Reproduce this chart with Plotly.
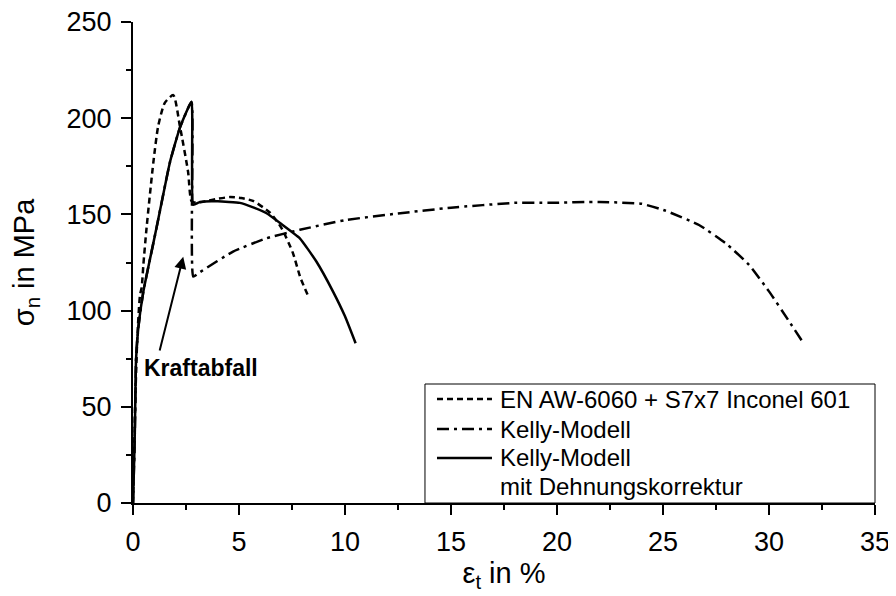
import plotly.graph_objects as go

# Experiment: EN AW-6060 + S7x7 Inconel 601
exp_x = [0.0, 0.1, 0.2, 0.33, 0.41, 0.49, 0.64, 0.96, 1.19, 1.5, 1.9, 2.21, 2.6, 2.76, 3.0, 3.5, 3.94, 4.57, 5.1, 5.66, 6.45, 7.0, 7.54, 7.9, 8.31]
exp_y = [0.0, 50, 85, 108, 112, 124, 143, 177, 196, 208, 212, 196, 172, 157, 156, 157, 158, 159, 158.5, 157, 151, 143, 130, 117, 106.5]

# Kelly-Modell
kel_x = [0.0, 0.05, 0.09, 0.14, 0.25, 0.49, 1.11, 1.74, 2.21, 2.76, 2.84, 3.16, 4.72, 6.3, 7.87, 10.0, 12.5, 15.0, 18.0, 19.6, 22.0, 24.0, 25.1, 26.7, 27.96, 29.06, 30.0, 30.95, 31.57]
kel_y = [0.0, 20, 39, 74, 91, 110, 143, 177, 195, 208.5, 117.7, 120, 130.7, 137.6, 142, 147, 150.5, 153.5, 156, 156, 156.5, 155.5, 152, 144.5, 135, 123.8, 110, 94.4, 84]

# Kelly-Modell mit Dehnungskorrektur
kdk_x = [0.0, 0.05, 0.09, 0.14, 0.25, 0.49, 1.11, 1.74, 2.21, 2.76, 2.84, 3.16, 4.0, 5.04, 5.7, 6.3, 7.0, 7.87, 8.65, 9.43, 10.0, 10.5]
kdk_y = [0.0, 20, 39, 74, 91, 110, 143, 177, 195, 208.5, 155, 156.5, 156.8, 156, 153.5, 150.6, 145, 137.6, 125.5, 110, 97, 83]

names = ["EN AW-6060 + S7x7 Inconel 601", "Kelly-Modell", "Kelly-Modell", "mit Dehnungskorrektur"]

x_ticks = [0, 5, 10, 15, 20, 25, 30, 35]
y_ticks = [0, 50, 100, 150, 200, 250]

font = "Liberation Sans, Arial, sans-serif"
dashes = ["6px,4px", "12px,5px,3px,5px", "solid"]

fig = go.Figure()
fig.add_trace(go.Scatter(x=exp_x, y=exp_y, mode="lines", name=names[0], showlegend=False,
                         line=dict(color="black", width=2.5, dash=dashes[0], shape="spline", smoothing=0.6)))
fig.add_trace(go.Scatter(x=kel_x, y=kel_y, mode="lines", name=names[1], showlegend=False,
                         line=dict(color="black", width=2.5, dash=dashes[1], shape="spline", smoothing=0.4)))
fig.add_trace(go.Scatter(x=kdk_x, y=kdk_y, mode="lines", name=names[2] + " " + names[3], showlegend=False,
                         line=dict(color="black", width=2.5, dash=dashes[2], shape="spline", smoothing=0.4)))

fig.add_annotation(x=2.37, y=128, ax=1.24, ay=78.5, xref="x", yref="y", axref="x", ayref="y",
                   showarrow=True, arrowhead=2, arrowsize=1.2, arrowwidth=2, arrowcolor="black", text="")
fig.add_annotation(x=3.19, y=70, xref="x", yref="y", text="<b>Kraftabfall</b>", showarrow=False,
                   font=dict(family=font, size=23, color="black"))

# Legend box (drawn manually, paper coordinates)
fig.add_shape(type="rect", xref="paper", yref="paper", x0=0.3935, x1=1.0, y0=0, y1=0.2474,
              line=dict(color="black", width=1), fillcolor="white", layer="above")
row_y = [0.2162, 0.1538, 0.0936, 0.0333]
for i in range(3):
    fig.add_shape(type="line", xref="paper", yref="paper", x0=0.4097, x1=0.4838, y0=row_y[i], y1=row_y[i],
                  line=dict(color="black", width=2.5, dash=dashes[i]), layer="above")
for i in range(4):
    fig.add_annotation(xref="paper", yref="paper", x=0.4919, y=row_y[i], xanchor="left", yanchor="middle",
                       text=names[i], showarrow=False, font=dict(family=font, size=24, color="black"))

axis_common = dict(showline=True, linecolor="black", linewidth=2, ticks="outside", ticklen=10,
                   tickwidth=2, tickcolor="black", showgrid=False, zeroline=False, mirror=False,
                   automargin=False, ticklabelstandoff=4, ticklabeloverflow="allow",
                   tickfont=dict(family=font, size=27, color="black"))

fig.update_xaxes(range=[0, 35], tickvals=x_ticks,
                 title=dict(text="ε<sub>t</sub> in %", font=dict(family=font, size=29, color="black"), standoff=2),
                 minor=dict(dtick=2.5, ticks="outside", ticklen=5, tickwidth=2, tickcolor="black"), **axis_common)
fig.update_yaxes(range=[0, 250], tickvals=y_ticks,
                 title=dict(text="σ<sub>n</sub> in MPa", font=dict(family=font, size=29, color="black"), standoff=30),
                 minor=dict(dtick=25, ticks="outside", ticklen=5, tickwidth=2, tickcolor="black"), **axis_common)

fig.update_layout(
    width=888, height=588,
    margin=dict(l=125, r=21, t=14, b=93, autoexpand=False),
    plot_bgcolor="white", paper_bgcolor="white",
    showlegend=False,
)

fig.write_html("out.html")
